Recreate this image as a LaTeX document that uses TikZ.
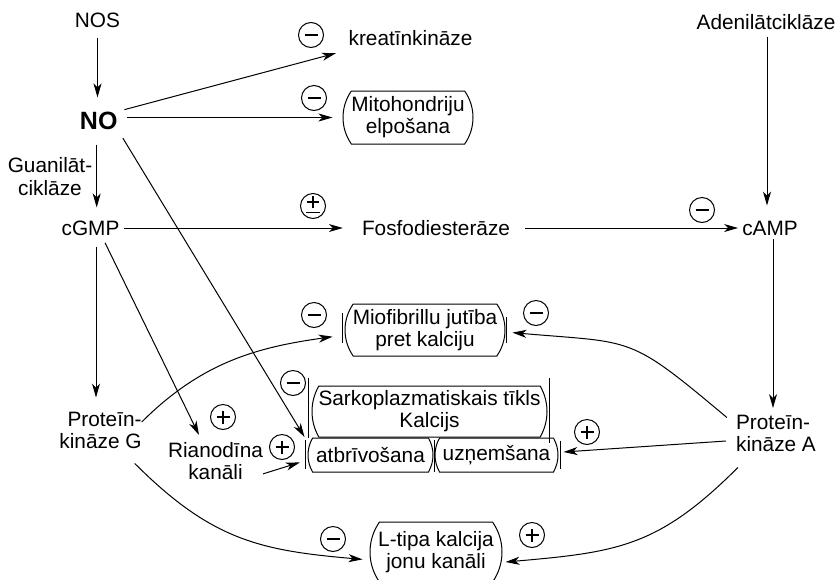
\documentclass[tikz,border=0pt]{standalone}
\usepackage{fontspec}
\setmainfont{Liberation Sans}
\usetikzlibrary{arrows.meta,shapes.misc}
\newcommand{\bodySize}{\fontsize{20.8}{22}\selectfont}
\tikzset{
  txt/.style={inner sep=0pt, font=\bodySize, align=center},
  capsule/.style={rounded rectangle, rounded rectangle arc length=#1, draw, line width=1pt, inner sep=0pt, font=\bodySize, align=center},
  capsule/.default=70,
  signbase/.style={circle, draw, line width=1pt, minimum size=25pt, inner sep=0pt},
  minussign/.style={signbase, path picture={\draw[line width=1.8pt] ([xshift=-6.5pt]path picture bounding box.center) -- ++(13pt,0pt);}},
  plussign/.style={signbase, path picture={\draw[line width=1.8pt] ([xshift=-6.5pt]path picture bounding box.center) -- ++(13pt,0pt) ([yshift=-6.5pt]path picture bounding box.center) -- ++(0pt,13pt);}},
  pmsign/.style={signbase, path picture={\draw[line width=1.8pt] ([xshift=-6pt,yshift=4pt]path picture bounding box.center) -- ++(12pt,0pt) ([yshift=-2pt]path picture bounding box.center) -- ++(0pt,12pt) ([xshift=-7pt,yshift=-6.5pt]path picture bounding box.center) -- ++(14pt,0pt);}},
  conn/.style={line width=1pt, -{Stealth[length=14pt,width=8pt,inset=4pt]}},
  bracketbar/.style={line width=1pt}
}

\begin{document}
\begin{tikzpicture}[x=1pt, y=1pt]
  \useasboundingbox (0,0) rectangle (837,-579);

  % NO branch
  \node[txt] (nos) at (97.5,-20) {NOS};
  \node[txt, font=\fontsize{25}{30}\selectfont\bfseries] (no) at (98.7,-120.5) {NO};
  \node[txt, font=\fontsize{20.8}{23}\selectfont] (guan) at (50,-176.5) {Guanilāt-\\ciklāze};
  \node[txt] (cgmp) at (90.5,-228) {cGMP};
  \node[txt] (kreat) at (410.5,-38) {kreatīnkināze};
  \node[capsule, minimum width=130pt, minimum height=53pt] (mito) at (408,-117.5) {Mitohondriju\\elpošana};

  % cAMP branch
  \node[txt] (fosfo) at (436,-228) {Fosfodiesterāze};
  \node[txt] (adenil) at (766,-22) {Adenilātciklāze};
  \node[txt] (camp) at (770,-228) {cAMP};

  % Kinases
  \node[txt, align=right] (pkg) at (100.5,-430) {Proteīn-\\kināze G};
  \node[txt, align=left] (pka) at (776,-433.5) {Proteīn-\\kināze A};
  \node[txt] (rian) at (215.5,-461) {Rianodīna\\kanāli};

  % Calcium targets
  \node[capsule, minimum width=160pt, minimum height=52pt] (miofib) at (425,-330) {Miofibrillu jutība\\pret kalciju};
  \node[capsule=60, minimum width=235pt, minimum height=51pt] (sarko) at (429.5,-411.5) {Sarkoplazmatiskais tīkls\\Kalcijs};
  \node[capsule=60, minimum width=125pt, minimum height=34pt] (atbr) at (370.5,-455) {atbrīvošana};
  \node[capsule=60, minimum width=123pt, minimum height=34pt] (uzn) at (496.5,-455) {uzņemšana};
  \node[capsule, minimum width=132pt, minimum height=60pt] (ltipa) at (436,-552) {L-tipa kalcija\\jonu kanāli};

  % Straight connectors
  \draw[conn, shorten <=10pt, shorten >=14pt] (nos.south) -- (nos.south |- no.north);
  \draw[conn, shorten <=7pt, shorten >=13pt] (no.north east) -- ([yshift=-4pt]kreat.south west);
  \draw[conn, shorten <=9pt, shorten >=10pt] (no.east |- mito.west) -- (mito.west);
  \draw[conn, shorten <=15pt, shorten >=13pt] ([xshift=-2pt]no.south) -- ([xshift=-2pt]no.south |- cgmp.north);
  \draw[conn, shorten <=10pt] (no.south east) -- ([xshift=-3pt,yshift=18pt]atbr.west);
  \draw[conn, shorten <=4pt, shorten >=19pt] (cgmp.east) -- (fosfo.west);
  \draw[conn, shorten <=15pt, shorten >=4pt] (fosfo.east) -- (camp.west);
  \draw[conn, shorten <=7pt, shorten >=15pt] ([xshift=1pt]adenil.south) -- ([xshift=1pt]adenil.south |- camp.north);
  \draw[conn, shorten <=4pt, shorten >=7pt] ([xshift=3pt]camp.south) -- ([xshift=3pt]camp.south |- pka.north);
  \draw[conn, shorten <=11pt, shorten >=14pt] ([xshift=5.5pt]cgmp.south) -- ([xshift=5.5pt]cgmp.south |- pkg.north);
  \draw[conn, shorten <=8pt, shorten >=8pt] ([xshift=11pt]cgmp.south) -- ([xshift=-13pt]rian.north);
  \draw[conn, shorten >=8pt] ([yshift=6pt]rian.south east) -- ([yshift=-5pt]atbr.west);
  \draw[conn] ([xshift=-10pt,yshift=-7.5pt]pka.west) -- ([xshift=5pt,yshift=3pt]uzn.east);

  % Curved connectors
  \draw[conn, shorten >=12pt] ([yshift=8pt]pkg.east) to[out=45, in=188] ([yshift=-5pt]miofib.west);
  \draw[conn, shorten >=7pt] ([xshift=-9pt,yshift=-2.5pt]pka.north west) to[out=140, in=-5, looseness=1.4] ([yshift=-2pt]miofib.east);
  \draw[conn] ([xshift=2pt,yshift=-15.5pt]pka.south west) to[out=225, in=5, looseness=1.15] ([xshift=3pt,yshift=-10pt]ltipa.east);
  \draw[conn, shorten >=7pt] ([xshift=-7pt,yshift=-15pt]pkg.south east) to[out=-45, in=175, looseness=1.1] ([yshift=-8pt]ltipa.west);

  % Signs
  \foreach \kind/\sx/\sy [count=\i] in {minussign/311/35, minussign/314/98, pmsign/313/206, minussign/702/210, minussign/314/315, minussign/536/313, minussign/293/383, plussign/223/417, plussign/282/447, plussign/587/432, minussign/333/539, plussign/532/535}
    \node[\kind] (sign\i) at (\sx,-\sy) {};

  % Bracket bars
  \foreach \anc/\dx/\ya/\yb in {miofib.west/-2/17/-13, miofib.east/1/13/-13, sarko.west/-3/33.5/-26.5, sarko.east/2/33.5/-31.5, atbr.west/-2/15/-14, uzn.east/2/14/-14, atbr.east/1/15/-17}
    \draw[bracketbar] ([xshift=\dx pt, yshift=\ya pt]\anc) -- ([xshift=\dx pt, yshift=\yb pt]\anc);
\end{tikzpicture}
\end{document}
